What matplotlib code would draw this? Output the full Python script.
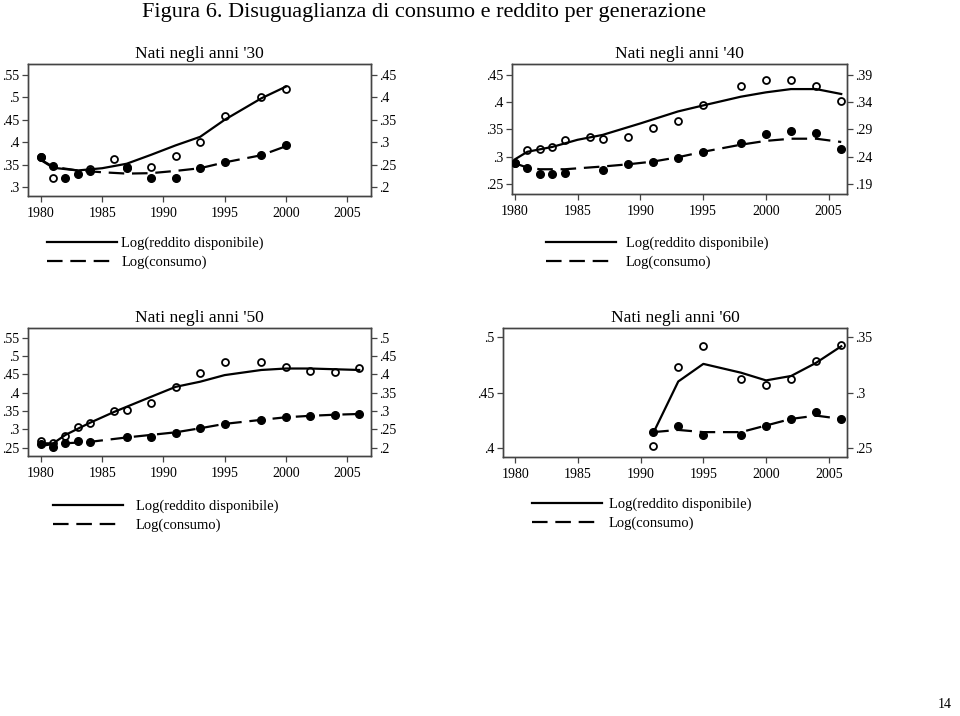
import matplotlib
matplotlib.use("Agg")
import matplotlib.pyplot as plt
from matplotlib.lines import Line2D

plt.rcParams['font.family'] = ['Liberation Serif', 'DejaVu Serif']

nan = float('nan')

# ---- data (income on left axis, consumption on right axis) ----
# Nati negli anni '30
y30 = [1980, 1981, 1982, 1983, 1984, 1986, 1987, 1989, 1991, 1993, 1995, 1998, 2000]
inc30 = [.366, .321, nan, nan, .340, .362, .345, .345, .369, .400, .458, .502, .519]
con30 = [.266, .246, .221, .228, .236, nan, .242, .221, .221, .242, .256, .271, .293]
fy30 = [1980, 1981, 1983, 1985, 1987, 1989, 1991, 1993, 1995, 1998, 2000]
finc30 = [.360, .343, .337, .342, .352, .372, .393, .412, .450, .498, .524]
fcon30 = [.261, .245, .237, .233, .230, .231, .236, .242, .255, .271, .291]

# Nati negli anni '40
y40 = [1980, 1981, 1982, 1983, 1984, 1986, 1987, 1989, 1991, 1993, 1995, 1998, 2000, 2002, 2004, 2006]
inc40 = [.288, .312, .315, .318, .331, .336, .332, .337, .352, .366, .395, .429, .441, .441, .429, .403]
con40 = [.228, .220, .208, .208, .210, nan, .216, .226, .230, .237, .249, .265, .281, .287, .284, .255]
fy40 = [1980, 1981, 1983, 1985, 1987, 1990, 1993, 1995, 1998, 2000, 2002, 2004, 2006]
finc40 = [.295, .309, .318, .331, .340, .361, .383, .394, .410, .418, .424, .424, .415]
fcy40 = [1980, 1981, 1982, 1984, 1987, 1989, 1991, 1993, 1995, 1998, 2000, 2002, 2004, 2006]
fcon40 = [.228, .220, .217, .217, .222, .226, .231, .239, .249, .262, .269, .273, .273, .267]

# Nati negli anni '50
y50 = [1980, 1981, 1982, 1983, 1984, 1986, 1987, 1989, 1991, 1993, 1995, 1998, 2000, 2002, 2004, 2006]
inc50 = [.269, .262, .282, .307, .318, .349, .353, .373, .415, .455, .484, .483, .471, .459, .456, .467]
con50 = [.210, .203, .212, .217, .216, nan, .228, .230, .239, .253, .265, .276, .283, .286, .289, .292]
fy50 = [1980, 1981, 1982, 1984, 1986, 1989, 1991, 1993, 1995, 1998, 2000, 2002, 2004, 2006]
finc50 = [.262, .262, .285, .318, .348, .389, .416, .430, .448, .462, .466, .466, .464, .462]
fcy50 = [1980, 1981, 1982, 1984, 1987, 1989, 1991, 1993, 1995, 1998, 2000, 2002, 2004, 2006]
fcon50 = [.205, .210, .212, .216, .228, .235, .242, .253, .265, .276, .283, .287, .290, .292]

# Nati negli anni '60
y60 = [1991, 1993, 1995, 1998, 2000, 2002, 2004, 2006]
inc60 = [.401, .473, .492, .462, .457, .462, .479, .493]
con60 = [.264, .270, .261, .261, .270, .276, .282, .276]
finc60 = [.413, .460, .476, .468, .461, .465, .477, .492]
fcon60 = [.264, .266, .264, .264, .270, .276, .279, .276]

xticks = [1980, 1985, 1990, 1995, 2000, 2005]

panels = [
    # title, axes box (px), xlim, left ylim, left ticks, right offset, right ticks, legend pos
    dict(title="Nati negli anni '30", box=(28, 64, 371, 196), xlim=(1978.94, 2006.96),
         ylim=(.28, .5746), lt=[.3, .35, .4, .45, .5, .55], off=.1, rt=[.2, .25, .3, .35, .4, .45],
         yrs=y30, inc=inc30, con=con30, fyi=fy30, fi=finc30, fyc=fy30, fc=fcon30,
         leg=(47, 237), tpad=0.3),
    dict(title="Nati negli anni '40", box=(512, 64, 847, 194), xlim=(1979.78, 2006.46),
         ylim=(.2316, .470), lt=[.25, .3, .35, .4, .45], off=.06, rt=[.19, .24, .29, .34, .39],
         yrs=y40, inc=inc40, con=con40, fyi=fy40, fi=finc40, fyc=fcy40, fc=fcon40,
         leg=(546, 237), tpad=0.68),
    dict(title="Nati negli anni '50", box=(28, 328, 371, 456), xlim=(1978.94, 2006.96),
         ylim=(.2274, .5765), lt=[.25, .3, .35, .4, .45, .5, .55], off=.05,
         rt=[.2, .25, .3, .35, .4, .45, .5],
         yrs=y50, inc=inc50, con=con50, fyi=fy50, fi=finc50, fyc=fcy50, fc=fcon50,
         leg=(53, 500), tpad=0.89),
    dict(title="Nati negli anni '60", box=(503, 328, 847, 457), xlim=(1979.02, 2006.46),
         ylim=(.3914, .5086), lt=[.4, .45, .5], off=.15, rt=[.25, .3, .35],
         yrs=y60, inc=inc60, con=con60, fyi=y60, fi=finc60, fyc=y60, fc=fcon60,
         leg=(532, 498), tpad=0.48),
]

W, H = 960, 716
fig = plt.figure(figsize=(W / 100, H / 100), dpi=100)
fig.text(424 / W, 1 - 12 / H, "Figura 6. Disuguaglianza di consumo e reddito per generazione",
         ha='center', va='center', fontsize=16)
fig.text(952 / W, 1 - 704 / H, "14", ha='right', va='center', fontsize=10)

frame = '#444444'
dash = (7, 3.5)

for p in panels:
    x0, y0, x1, y1 = p['box']
    ax = fig.add_axes([x0 / W, 1 - y1 / H, (x1 - x0) / W, (y1 - y0) / H])
    ax2 = ax.twinx()

    ax.plot(p['fyi'], p['fi'], color='black', lw=1.6, zorder=3)
    ax.plot(p['yrs'], p['inc'], 'o', ms=5, mfc='white', mec='black', mew=1.3, zorder=2)
    ax2.plot(p['fyc'], p['fc'], color='black', lw=1.6, dashes=dash, zorder=3)
    ax2.plot(p['yrs'], p['con'], 'o', ms=5.5, color='black', zorder=4)

    ax.set_xlim(*p['xlim'])
    ax.set_ylim(*p['ylim'])
    ax2.set_ylim(p['ylim'][0] - p['off'], p['ylim'][1] - p['off'])
    ax.set_xticks(xticks)
    ax.set_yticks(p['lt'])
    ax.set_yticklabels([('%g' % v).lstrip('0') for v in p['lt']])
    ax2.set_yticks(p['rt'])
    ax2.set_yticklabels([('%g' % v).lstrip('0') for v in p['rt']])
    for a in (ax, ax2):
        a.tick_params(direction='out', length=4, width=0.9, color=frame, labelsize=10, pad=2)
        for s in a.spines.values():
            s.set_color(frame)
            s.set_linewidth(1.0)
    ax.tick_params(axis='x', pad=4)
    ax.set_title(p['title'], fontsize=12.5, pad=4)

    lx, ly = p['leg']
    handles = [Line2D([], [], color='black', lw=1.6),
               Line2D([], [], color='black', lw=1.6, dashes=dash)]
    fig.legend(handles, ["Log(reddito disponibile)", "Log(consumo)"],
               loc='upper left', bbox_to_anchor=(lx / W, 1 - ly / H), frameon=False,
               fontsize=10.5, handlelength=4.8, handletextpad=p['tpad'], labelspacing=0.35,
               borderaxespad=0, borderpad=0)

fig.savefig("out.png", dpi=100)
